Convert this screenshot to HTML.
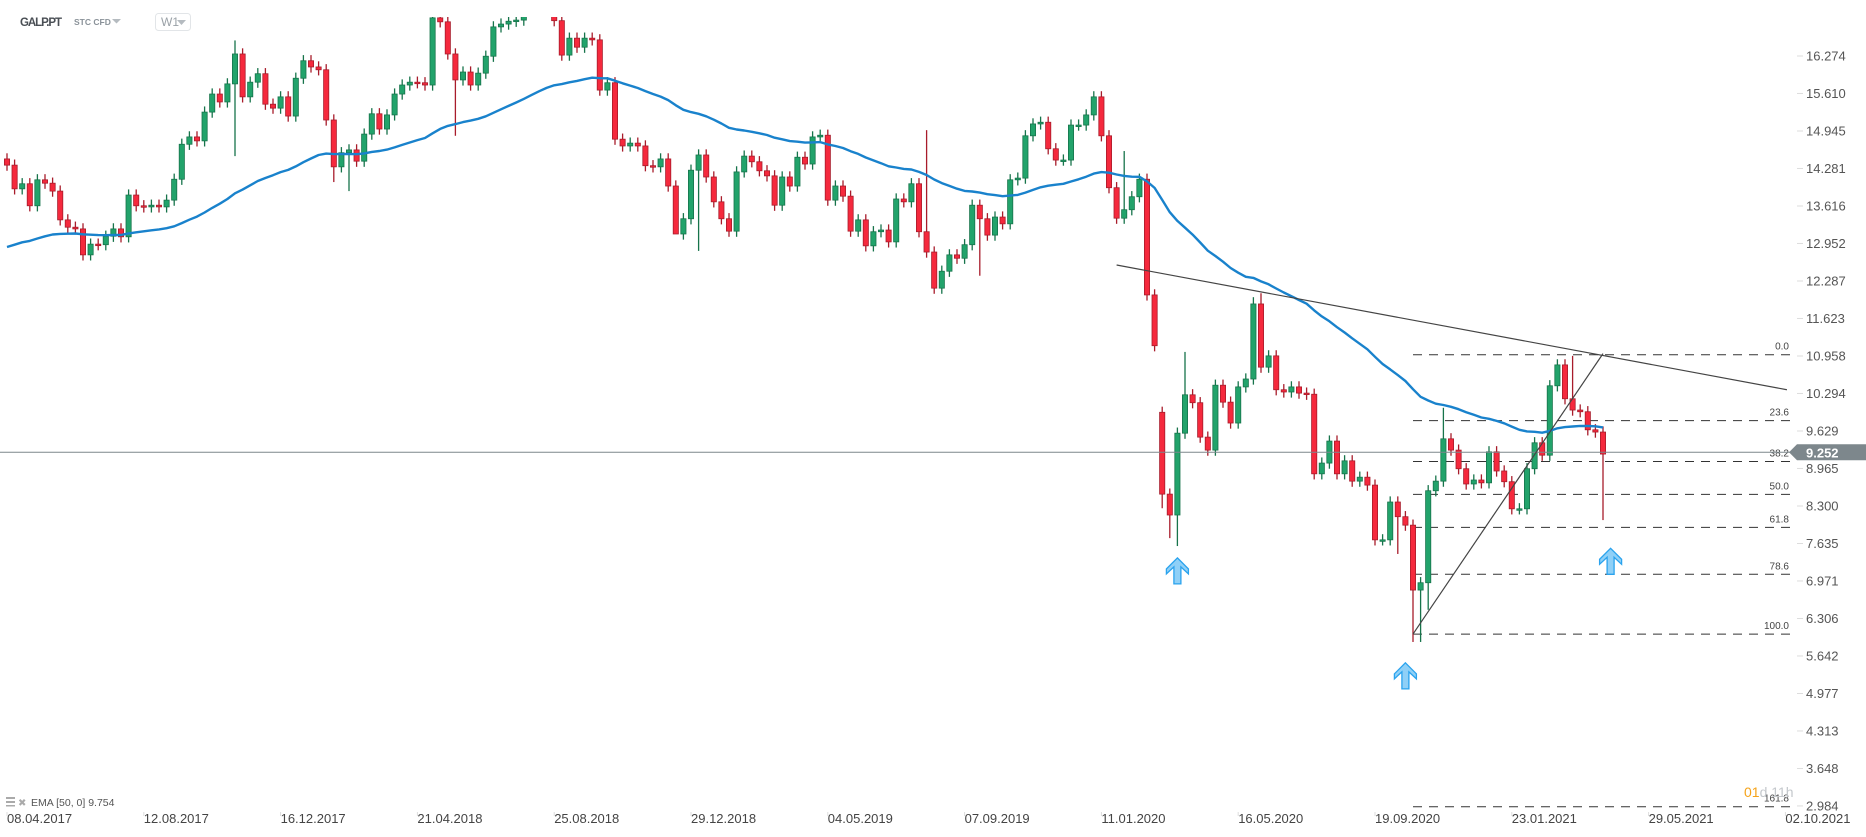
<!DOCTYPE html>
<html><head><meta charset="utf-8"><style>
html,body{margin:0;padding:0;background:#fff;width:1866px;height:837px;overflow:hidden;font-family:"Liberation Sans",sans-serif}
svg text{font-family:"Liberation Sans",sans-serif}
</style></head><body>
<svg id="chart" width="1866" height="837" viewBox="0 0 1866 837" xmlns="http://www.w3.org/2000/svg">
<defs><clipPath id="plotClip"><rect x="0" y="17" width="1792" height="800"/></clipPath></defs>
<g>
<text x="20" y="26" font-size="11.5" font-weight="bold" fill="#4a4f55" textLength="42">GALP.PT</text>
<text x="74" y="25" font-size="8.5" font-weight="bold" fill="#8a9299">STC  CFD</text>
<polygon points="112,19 121,19 116.5,23.5" fill="#b5bbc0"/>
<rect x="155.5" y="13.5" width="35" height="17" rx="3" fill="#fff" stroke="#e2e5e8"/>
<text x="161" y="26" font-size="12" fill="#9aa1a7">W1</text>
<polygon points="177,20 186,20 181.5,25" fill="#b5bbc0"/>
</g>
<g id="yaxis"></g>
<g id="xaxis"></g>
<g id="fib"></g>
<g id="plot" clip-path="url(#plotClip)"></g>
<g id="overlay"></g>
<g>
<rect x="6" y="797" width="9" height="2" fill="#aaa"/><rect x="6" y="801" width="9" height="2" fill="#aaa"/><rect x="6" y="805" width="9" height="1.5" fill="#aaa"/>
<text x="18" y="806" font-size="10" fill="#aaa">✖</text>
<text x="31" y="806" font-size="10.5" fill="#555">EMA [50, 0] 9.754</text>
</g>
<g>
<text x="1744" y="797" font-size="14"><tspan fill="#f5a31a">01</tspan><tspan fill="#c4c8cc">d 11h</tspan></text>
</g>
</svg>
<script>
const closes=[14.34,13.92,14.01,13.62,14.08,14.02,13.88,13.37,13.24,13.21,12.75,12.94,12.93,13.08,13.21,13.07,13.81,13.62,13.60,13.63,13.60,13.72,14.09,14.71,14.84,14.77,15.28,15.60,15.46,15.78,16.31,15.55,15.81,15.96,15.42,15.35,15.55,15.21,15.88,16.19,16.08,16.03,15.14,14.31,14.56,14.61,14.41,14.89,15.25,14.98,15.23,15.60,15.76,15.81,15.80,15.76,16.95,16.88,16.31,15.85,15.99,15.76,15.97,16.27,16.79,16.84,16.89,16.91,
17.1,17.2,17.3,17.2,16.9,
16.29,16.59,16.43,16.59,16.56,15.67,15.80,14.80,14.68,14.73,14.68,14.33,14.31,14.45,13.97,13.12,13.39,14.25,14.52,14.13,13.69,13.39,13.17,14.22,14.50,14.40,14.24,14.15,13.63,14.13,13.97,14.48,14.36,14.84,14.87,13.72,13.97,13.79,13.17,13.37,12.91,13.16,13.19,12.98,13.74,13.69,14.01,13.16,12.80,12.16,12.46,12.75,12.69,12.93,13.63,13.39,13.10,13.42,13.30,14.08,14.11,14.86,15.07,15.10,14.63,14.43,14.43,15.05,15.05,15.23,15.55,
14.86,13.94,13.40,13.55,13.78,14.09,12.04,11.14,
8.51,8.14,9.59,10.27,10.13,9.52,9.29,10.44,10.14,9.77,10.41,10.55,11.88,10.76,10.96,10.36,10.32,10.41,10.30,10.28,8.87,9.06,9.45,8.87,9.10,8.74,8.81,8.67,7.70,7.70,8.37,8.11,7.96,6.81,6.94,8.57,8.74,9.49,9.29,8.96,8.69,8.76,8.71,9.26,8.92,8.73,8.25,8.25,8.96,9.42,9.20,10.43,10.80,10.20,10.00,9.97,9.65,9.61,9.22];
const firstOpen=14.45;
const openOverride={152:9.96};
const highOverride={30:16.55,56:17.3,155:11.03,164:12.00,165:12.07,189:10.04,206:10.96,121:14.96,147:14.59};
const lowOverride={30:14.50,43:14.04,45:13.88,59:14.86,88:13.58,91:12.82,128:12.38,152:8.26,153:7.73,154:7.59,183:7.45,185:5.89,186:5.89,187:6.46,210:8.05};
const emaPeriod=50;
const emaSeed=12.89;
const yTicks=["16.274","15.610","14.945","14.281","13.616","12.952","12.287","11.623","10.958","10.294","9.629","8.965","8.300","7.635","6.971","6.306","5.642","4.977","4.313","3.648","2.984"];
const xTickLabels=["08.04.2017","12.08.2017","16.12.2017","21.04.2018","25.08.2018","29.12.2018","04.05.2019","07.09.2019","11.01.2020","16.05.2020","19.09.2020","23.01.2021","29.05.2021","02.10.2021"];
const xTickWeeks=[0,18,36,54,72,90,108,126,144,162,180,198,216,234];
const lastPrice=9.252;
const fibHigh=10.98, fibLow=6.03;
const fibLevels=[0,23.6,38.2,50,61.8,78.6,100,161.8];
const fibLabels=["0.0","23.6","38.2","50.0","61.8","78.6","100.0","161.8"];
const trendA=[146,12.57,234.2,10.36];   // [week, price, week, price]
const trendB=[185,6.03,210,11.0];
const arrowMarks=[[154,7.38],[184,5.52],[211,7.55]];

const NS="http://www.w3.org/2000/svg";
const Y=p=>56+(16.274-p)*56.43;
const X=i=>7+i*7.6;
function el(tag,attrs,parent){const e=document.createElementNS(NS,tag);for(const k in attrs)e.setAttribute(k,attrs[k]);parent.appendChild(e);return e;}
const yaxis=document.getElementById('yaxis'),xaxis=document.getElementById('xaxis'),plot=document.getElementById('plot'),fib=document.getElementById('fib'),overlay=document.getElementById('overlay');

yTicks.forEach(t=>{const y=Y(parseFloat(t));
 const l=el('line',{x1:1797,x2:1803,y1:y,y2:y,stroke:'#ddd'},yaxis);
 
 
 const tx=el('text',{x:1806,y:y+4.5,'font-size':13,fill:'#555'},yaxis);tx.textContent=t;
 
 
});
xTickLabels.forEach((t,k)=>{const x=X(xTickWeeks[k]);
 const l=el('line',{x1:x,x2:x,y1:812,y2:816,stroke:'#ddd'},xaxis);
 
 
 const tx=el('text',{x:x,y:823,'font-size':13,fill:'#444'},xaxis);tx.textContent=t;
 
 
});

const fx1=X(trendB[0]), fx2=1790;
fibLevels.forEach((r,k)=>{const p=fibHigh-(fibHigh-fibLow)*r/100;const y=Y(p);
 const l=el('line',{x1:fx1,x2:fx2,y1:y,y2:y,stroke:'#333','stroke-width':1,'stroke-dasharray':'9,7'},fib);
 
 
 const tx=el('text',{x:1789,y:y-5,'font-size':10,fill:'#444','text-anchor':'end'},fib);tx.textContent=fibLabels[k];
 
 
});

const lp=el('line',{x1:0,x2:1795,y1:Y(lastPrice),y2:Y(lastPrice),stroke:'#7d878c','stroke-width':1},overlay);



let prev=firstOpen;
closes.forEach((c,i)=>{
 const o=(openOverride[i]!==undefined)?openOverride[i]:prev;
 const hi=(highOverride[i]!==undefined)?highOverride[i]:Math.max(o,c)+0.1;
 const lo=(lowOverride[i]!==undefined)?lowOverride[i]:Math.min(o,c)-0.1;
 const up=c>=o;const fill=up?'#22a36b':'#f5293d';const st=up?'#17744b':'#a81c2b';
 const x=X(i);
 const w=el('line',{x1:x,x2:x,y1:Y(hi),y2:Y(lo),stroke:st,'stroke-width':1.3},plot);
 
 
 const yt=Y(Math.max(o,c)),yb=Y(Math.min(o,c));
 const b=el('rect',{x:x-2.6,y:yt,width:5.2,height:Math.max(1.5,yb-yt),fill:fill,stroke:st,'stroke-width':0.8},plot);
 
 
 prev=c;
});

const a=2/(emaPeriod+1);let e=emaSeed;const pts=[];
closes.forEach((c,i)=>{if(i>0)e=e+a*(c-e);pts.push(X(i).toFixed(1)+','+Y(e).toFixed(1));});
const ema=el('polyline',{points:pts.join(' '),fill:'none',stroke:'#1982cc','stroke-width':2.4,'stroke-linejoin':'round'},plot);



function tl(t){return [X(t[0]),Y(t[1]),X(t[2]),Y(t[3])];}
{const [x1,y1,x2,y2]=tl(trendA);
 const l=el('line',{x1:x1,y1:y1,x2:x2,y2:y2,stroke:'#444','stroke-width':1.2},overlay);
 
 }
{const [x1,y1,x2,y2]=tl(trendB);
 const l=el('line',{x1:x1,y1:y1,x2:x2,y2:y2,stroke:'#444','stroke-width':1.2},overlay);
 
 }

arrowMarks.forEach(m=>{const x=X(m[0]),y=Y(m[1]);
 const g=el('polygon',{points:[[x,y],[x+11,y+11],[x+11,y+16],[x+3.5,y+9],[x+3.5,y+26],[x-3.5,y+26],[x-3.5,y+9],[x-11,y+16],[x-11,y+11]].map(p=>p.join(',')).join(' '),fill:'#8fd0f7',stroke:'#2aa3ee','stroke-width':1.3},overlay);
 
 
});

{const y=Y(lastPrice);
 const t=el('polygon',{points:`1789,${y} 1797,${y-8} 1866,${y-8} 1866,${y+8} 1797,${y+8}`,fill:'#7d878c'},overlay);
 
 
 const tx=el('text',{x:1806,y:y+5,'font-size':13,'font-weight':'bold',fill:'#fff'},overlay);tx.textContent=lastPrice.toFixed(3);
 
 }
</script>
</body></html>
